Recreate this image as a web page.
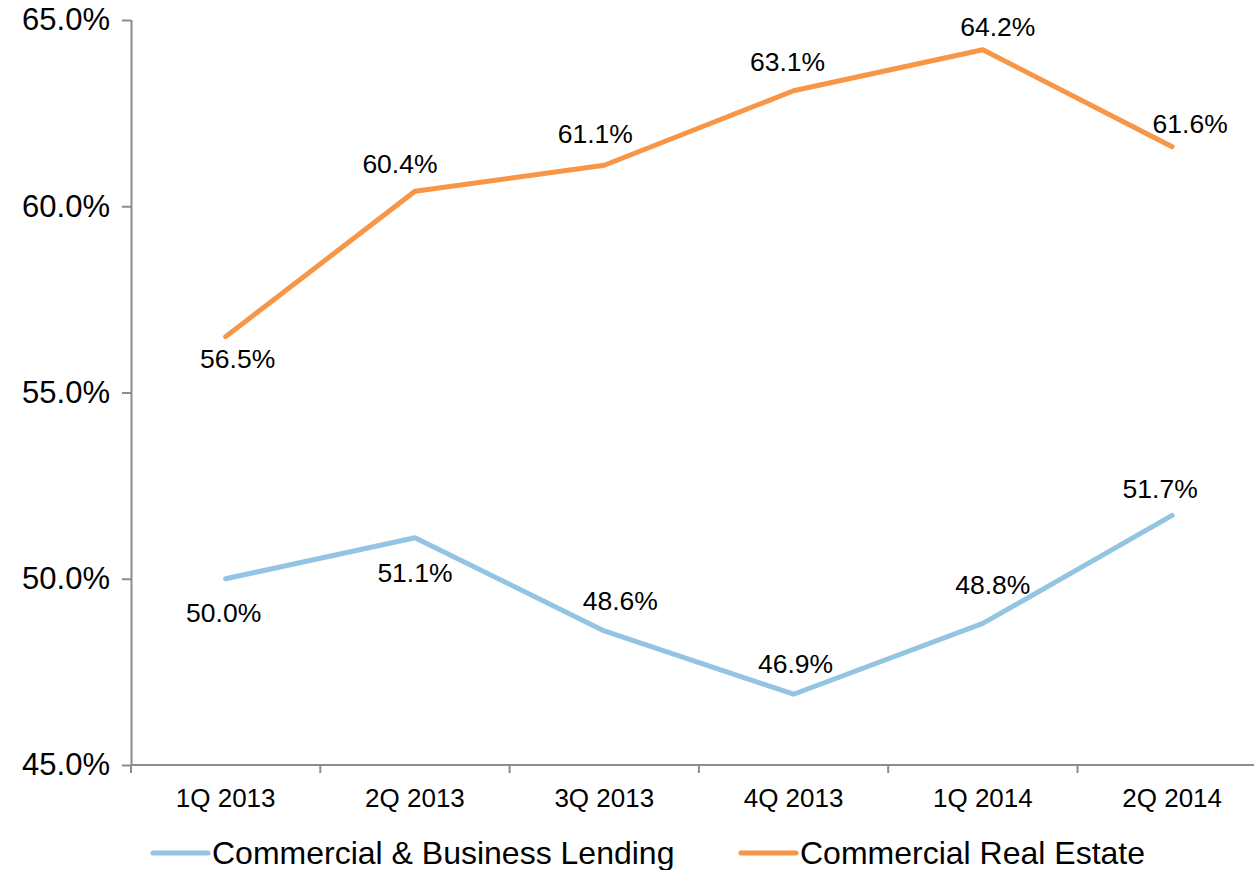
<!DOCTYPE html>
<html>
<head>
<meta charset="utf-8">
<script src="https://cdn.jsdelivr.net/npm/d3@7"></script>
<style>
  body { margin: 0; background: #fff; }
  text { font-family: "Liberation Sans", Arial, sans-serif; fill: #000; }
</style>
</head>
<body>
<div id="chart"></div>
<script>
// quarters on the x axis
var quarters = ["1Q 2013", "2Q 2013", "3Q 2013", "4Q 2013", "1Q 2014", "2Q 2014"];

// series values (percent)
var cbl_values = [50.0, 51.1, 48.6, 46.9, 48.8, 51.7];
var cre_values = [56.5, 60.4, 61.1, 63.1, 64.2, 61.6];

var series_names = ["Commercial & Business Lending", "Commercial Real Estate"];

var y_ticks = [45, 50, 55, 60, 65];

var width = 1254;
var height = 870;
var margin = { top: 20, left: 131, bottom: 105 };
var plotRight = 131 + 6 * 189.3; // last category runs past the picture

// label nudges for each point [dx, dy] (px from the point)
var cbl_label_off = [[-2, 34], [0, 35], [16, -30], [2, -30], [10, -38], [-12, -26]];
var cre_label_off = [[12, 22], [-15, -27], [-9, -31], [-6, -29], [15, -23], [18, -23]];

var svg = d3
  .select("#chart")
  .append("svg")
  .attr("width", width)
  .attr("height", height);

var x = d3
  .scaleBand()
  .domain(quarters)
  .range([margin.left, plotRight])
  .paddingInner(0)
  .paddingOuter(0);

var y = d3
  .scaleLinear()
  .domain([45, 65])
  .range([height - margin.bottom, margin.top]);

function cx(i) {
  return x(quarters[i]) + x.bandwidth() / 2;
}

// y axis
var yAxis = svg
  .append("g")
  .attr("transform", "translate(" + margin.left + ",0)")
  .call(
    d3
      .axisLeft(y)
      .tickValues(y_ticks)
      .tickSize(9)
      .tickPadding(12)
      .tickFormat(function (d) {
        return d3.format(".1f")(d) + "%";
      })
  );
yAxis.select(".domain").attr("stroke", "#8c8c8c").attr("stroke-width", 2).attr("d", "M0.5," + y(65) + "V" + y(45));
yAxis.selectAll(".tick line").attr("stroke", "#8c8c8c").attr("stroke-width", 2);
yAxis.selectAll(".tick text").style("font-size", "31px").attr("fill", "#000");

// x axis (ticks between categories)
var xg = svg
  .append("g")
  .attr("transform", "translate(0," + y(45) + ")");
xg.append("line")
  .attr("x1", margin.left)
  .attr("x2", plotRight)
  .attr("y1", 0)
  .attr("y2", 0)
  .attr("stroke", "#8c8c8c")
  .attr("stroke-width", 2);
xg.selectAll("line.tk")
  .data(quarters)
  .enter()
  .append("line")
  .attr("class", "tk")
  .attr("x1", function (d) { return x(d); })
  .attr("x2", function (d) { return x(d); })
  .attr("y1", 0)
  .attr("y2", 8)
  .attr("stroke", "#8c8c8c")
  .attr("stroke-width", 2);
xg.selectAll("text")
  .data(quarters)
  .enter()
  .append("text")
  .attr("x", function (d) { return x(d) + x.bandwidth() / 2; })
  .attr("y", 42)
  .attr("text-anchor", "middle")
  .style("font-size", "26px")
  .text(function (d) { return d; });

var line = d3
  .line()
  .x(function (d, i) { return cx(i); })
  .y(function (d) { return y(d); });

function drawSeries(vals, color, offs) {
  svg
    .append("path")
    .datum(vals)
    .attr("fill", "none")
    .attr("stroke", color)
    .attr("stroke-width", 5)
    .attr("stroke-linecap", "round")
    .attr("stroke-linejoin", "round")
    .attr("d", line);

  svg
    .append("g")
    .selectAll("text")
    .data(vals)
    .enter()
    .append("text")
    .attr("x", function (d, i) { return cx(i) + offs[i][0]; })
    .attr("y", function (d, i) { return y(d) + offs[i][1]; })
    .attr("text-anchor", "middle")
    .attr("dominant-baseline", "central")
    .style("font-size", "26.5px")
    .text(function (d) { return d.toFixed(1) + "%"; });
}

drawSeries(cbl_values, "#93c4e3", cbl_label_off);
drawSeries(cre_values, "#f79646", cre_label_off);

// legend
var legend = [
  { name: series_names[0], color: "#93c4e3", x: 153 },
  { name: series_names[1], color: "#f79646", x: 741 },
];
var lg = svg.append("g").attr("transform", "translate(0,853)");
legend.forEach(function (l) {
  lg.append("line")
    .attr("x1", l.x)
    .attr("x2", l.x + 55)
    .attr("stroke", l.color)
    .attr("stroke-width", 5)
    .attr("stroke-linecap", "round");
  lg.append("text")
    .attr("x", l.x + 59)
    .attr("y", 0)
    .attr("dominant-baseline", "central")
    .style("font-size", "32px")
    .text(l.name);
});
</script>
</body>
</html>
